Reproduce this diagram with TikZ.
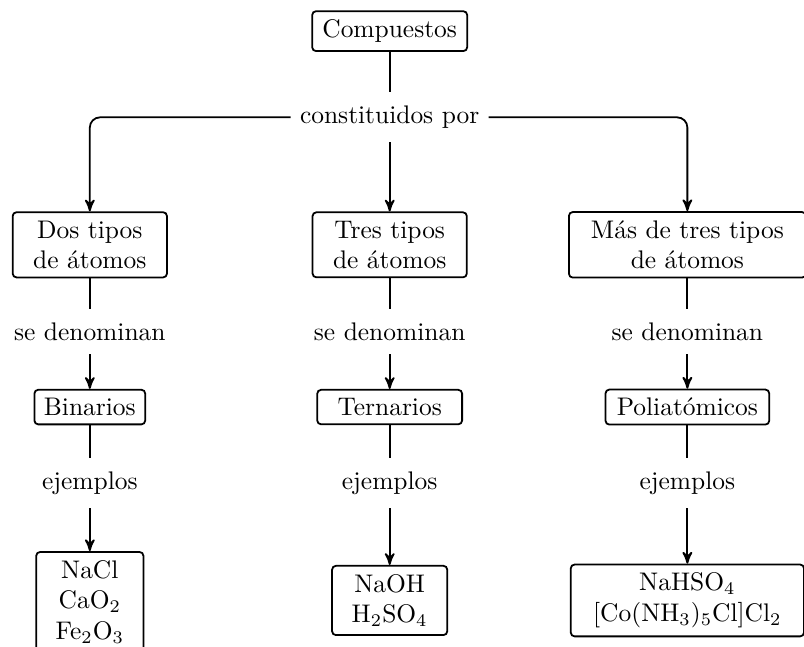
\documentclass[tikz,border=0pt]{standalone}
\usepackage{fontspec}
\usepackage{tikz}
\usetikzlibrary{arrows}
\tikzstyle{caja}=[draw,rounded corners=1.5pt,align=center]
\tikzstyle{etiq}=[inner xsep=3.3pt,inner ysep=5pt]
\tikzset{every picture/.style={line width=0.7pt}}

\begin{document}
\begin{tikzpicture}
\useasboundingbox (0,0) rectangle (11.1,-8.92);
\node[caja,minimum width=2.14cm] (A) at (5.38,-0.43) {Compuestos};
\node[etiq] (L) at (5.38,-1.62) {constituidos por};
\node[caja,minimum width=2.13cm] (B1) at (1.24,-3.38) {Dos tipos\\de átomos};
\node[caja,minimum width=2.13cm] (B2) at (5.38,-3.38) {Tres tipos\\de átomos};
\node[caja,minimum width=3.27cm] (B3) at (9.49,-3.38) {Más de tres tipos\\de átomos};
\node[etiq] (D1) at (1.24,-4.58) {se denominan};
\node[etiq] (D2) at (5.38,-4.58) {se denominan};
\node[etiq] (D3) at (9.49,-4.58) {se denominan};
\node[caja,minimum width=1.53cm] (E1) at (1.24,-5.62) {Binarios};
\node[caja,minimum width=2.0cm] (E2) at (5.38,-5.62) {Ternarios};
\node[caja,minimum width=2.26cm] (E3) at (9.49,-5.62) {Poliatómicos};
\node[etiq] (J1) at (1.24,-6.67) {ejemplos};
\node[etiq] (J2) at (5.38,-6.67) {ejemplos};
\node[etiq] (J3) at (9.49,-6.67) {ejemplos};
\node[caja,minimum width=1.48cm] (F1) at (1.24,-8.31) {NaCl\\CaO$_2$\\Fe$_2$O$_3$};
\node[caja,minimum width=1.59cm] (F2) at (5.38,-8.29) {NaOH\\H$_2$SO$_4$};
\node[caja,minimum width=3.22cm] (F3) at (9.49,-8.29) {NaHSO$_4$\\{}[Co(NH$_3$)$_5$Cl]Cl$_2$};
% de Compuestos a la primera fila
\draw (A) -- (L);
\draw[->,>=stealth',rounded corners=4pt] (L.west) -| (B1.north);
\draw[->,>=stealth',rounded corners=4pt] (L.east) -| (B3.north);
\path[->,>=stealth']
(L) edge (B2)
(D1) edge (E1)
(D2) edge (E2)
(D3) edge (E3)
(J1) edge (F1)
(J2) edge (F2)
(J3) edge (F3);
\path
(B1) edge (D1)
(B2) edge (D2)
(B3) edge (D3)
(E1) edge (J1)
(E2) edge (J2)
(E3) edge (J3);
\end{tikzpicture}
\end{document}
